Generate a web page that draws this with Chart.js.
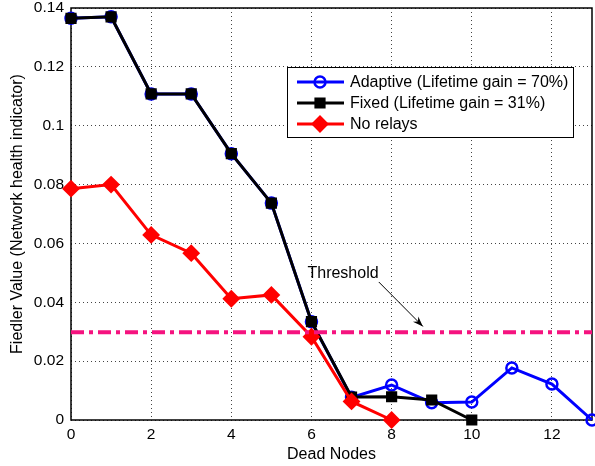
<!DOCTYPE html>
<html>
<head>
<meta charset="utf-8">
<script src="https://cdn.jsdelivr.net/npm/chart.js@4.4.1/dist/chart.umd.min.js"></script>
<style>
html, body { margin: 0; padding: 0; background: #fff; }
#wrap { width: 595px; height: 466px; }
</style>
</head>
<body>
<div id="wrap"><canvas id="chart" width="595" height="466"></canvas></div>
<script>
// values
var deadNodes = [0, 1, 2, 3, 4, 5, 6, 7, 8, 9, 10, 11, 12, 13];
var adaptive = [0.1365, 0.137, 0.1108, 0.1108, 0.0905, 0.0737, 0.0334, 0.0077, 0.0119, 0.0059, 0.0061, 0.0177, 0.0122, 0];
var fixedRelays = [0.1365, 0.137, 0.1108, 0.1108, 0.0905, 0.0737, 0.0334, 0.0078, 0.0079, 0.0068, 0];
var noRelays = [0.0786, 0.0800, 0.0629, 0.0567, 0.0412, 0.0425, 0.0283, 0.0063, 0];
var thresholdValue = 0.0298;
var xTicks = [0, 2, 4, 6, 8, 10, 12];
var yTicks = [0, 0.02, 0.04, 0.06, 0.08, 0.1, 0.12, 0.14];
var yTickLabels = ['0', '0.02', '0.04', '0.06', '0.08', '0.1', '0.12', '0.14'];
var seriesNames = ['Adaptive (Lifetime gain = 70%)', 'Fixed (Lifetime gain = 31%)', 'No relays'];

var FONT = "'Liberation Sans', Arial, Helvetica, sans-serif";

function toPoints(vals) {
    return vals.map(function(v, i) { return { x: deadNodes[i], y: v }; });
}

// axes box, legend and the threshold note, matlab style
var matlabBits = {
    id: 'matlabBits',
    beforeDatasetsDraw: function(chart) {
        var ctx = chart.ctx, a = chart.chartArea;
        ctx.save();
        ctx.strokeStyle = '#000';
        ctx.lineWidth = 1.5;
        ctx.strokeRect(a.left, a.top, a.right - a.left, a.bottom - a.top);
        ctx.restore();
    },
    afterDatasetsDraw: function(chart) {
        var ctx = chart.ctx;
        var xs = chart.scales.x, ys = chart.scales.y;

        // "Threshold" label with arrow
        ctx.save();
        ctx.fillStyle = '#000';
        ctx.font = '16px ' + FONT;
        ctx.textBaseline = 'alphabetic';
        ctx.fillText('Threshold', xs.getPixelForValue(5.9), ys.getPixelForValue(0.0483));
        var x1 = xs.getPixelForValue(7.68), y1 = ys.getPixelForValue(0.0469);
        var x2 = xs.getPixelForValue(8.78), y2 = ys.getPixelForValue(0.0318);
        ctx.strokeStyle = '#000';
        ctx.lineWidth = 1;
        ctx.beginPath();
        ctx.moveTo(x1, y1);
        ctx.lineTo(x2, y2);
        ctx.stroke();
        var ang = Math.atan2(y2 - y1, x2 - x1);
        ctx.beginPath();
        ctx.moveTo(x2, y2);
        ctx.lineTo(x2 - 11 * Math.cos(ang - 0.35), y2 - 11 * Math.sin(ang - 0.35));
        ctx.lineTo(x2 - 7 * Math.cos(ang), y2 - 7 * Math.sin(ang));
        ctx.lineTo(x2 - 11 * Math.cos(ang + 0.35), y2 - 11 * Math.sin(ang + 0.35));
        ctx.closePath();
        ctx.fill();
        ctx.restore();

        // legend box
        var bx = 287, by = 67, bw = 286, bh = 70;
        ctx.save();
        ctx.fillStyle = '#fff';
        ctx.fillRect(bx, by, bw, bh);
        ctx.strokeStyle = '#000';
        ctx.lineWidth = 1;
        ctx.strokeRect(bx + 0.5, by + 0.5, bw, bh);
        var sets = chart.data.datasets;
        for (var i = 0; i < 3; i++) {
            var ds = sets[i];
            var cy = by + 15 + i * 21;
            ctx.strokeStyle = ds.borderColor;
            ctx.lineWidth = 3;
            ctx.beginPath();
            ctx.moveTo(bx + 10, cy);
            ctx.lineTo(bx + 57, cy);
            ctx.stroke();
            ctx.fillStyle = ds.pointBackgroundColor;
            ctx.strokeStyle = ds.borderColor;
            ctx.lineWidth = ds.pointBorderWidth;
            ctx.beginPath();
            if (ds.pointStyle === 'circle') {
                ctx.arc(bx + 33, cy, ds.pointRadius, 0, Math.PI * 2);
            } else if (ds.pointStyle === 'rect') {
                var s = ds.pointRadius * Math.SQRT1_2;
                ctx.rect(bx + 33 - s, cy - s, 2 * s, 2 * s);
            } else {
                var r = ds.pointRadius;
                ctx.moveTo(bx + 33 - r, cy);
                ctx.lineTo(bx + 33, cy - r);
                ctx.lineTo(bx + 33 + r, cy);
                ctx.lineTo(bx + 33, cy + r);
                ctx.closePath();
            }
            ctx.fill();
            ctx.stroke();
            ctx.fillStyle = '#000';
            ctx.font = '16px ' + FONT;
            ctx.textBaseline = 'middle';
            ctx.fillText(seriesNames[i], bx + 63, cy + 1);
        }
        ctx.restore();
    }
};

function noEdgePadding(scale) {
    scale.paddingLeft = 0;
    scale.paddingRight = 0;
    scale.paddingTop = 0;
    scale.paddingBottom = 0;
}

var ctx = document.getElementById('chart').getContext('2d');
var chart = new Chart(ctx, {
    type: 'line',
    data: {
        datasets: [
            {
                label: seriesNames[0],
                data: toPoints(adaptive),
                borderColor: '#0000ff',
                borderWidth: 3,
                pointStyle: 'circle',
                pointRadius: 5.5,
                pointBorderWidth: 2.5,
                pointBackgroundColor: 'rgba(255,255,255,0)',
                pointBorderColor: '#0000ff',
                tension: 0,
                clip: false,
                order: 4
            },
            {
                label: seriesNames[1],
                data: toPoints(fixedRelays),
                borderColor: '#000000',
                borderWidth: 3,
                pointStyle: 'rect',
                pointRadius: 6.5,
                pointBorderWidth: 2,
                pointBackgroundColor: '#000000',
                pointBorderColor: '#000000',
                tension: 0,
                clip: false,
                order: 3
            },
            {
                label: seriesNames[2],
                data: toPoints(noRelays),
                borderColor: '#ff0000',
                borderWidth: 3,
                pointStyle: 'rectRot',
                pointRadius: 7.5,
                pointBorderWidth: 2,
                pointBackgroundColor: '#ff0000',
                pointBorderColor: '#ff0000',
                tension: 0,
                clip: false,
                order: 2
            },
            {
                label: 'Threshold',
                data: [{ x: deadNodes[0], y: thresholdValue }, { x: deadNodes[deadNodes.length - 1], y: thresholdValue }],
                borderColor: '#f5137f',
                borderWidth: 4,
                borderDash: [13, 5, 4, 5],
                pointRadius: 0,
                clip: false,
                order: 1
            }
        ]
    },
    options: {
        responsive: false,
        animation: false,
        devicePixelRatio: 1,
        layout: { autoPadding: false, padding: { left: 0, right: 3, top: 8, bottom: 0 } },
        plugins: {
            legend: { display: false },
            tooltip: { enabled: false }
        },
        scales: {
            x: {
                type: 'linear',
                min: 0,
                max: 13,
                afterBuildTicks: function(scale) {
                    scale.ticks = xTicks.map(function(v) { return { value: v }; });
                },
                afterFit: function(scale) { scale.height = 46; noEdgePadding(scale); },
                ticks: {
                    color: '#000',
                    font: { family: FONT, size: 15.5 },
                    padding: 5,
                    maxRotation: 0,
                    autoSkip: false
                },
                grid: { color: '#444', lineWidth: 1, drawTicks: false },
                border: { display: false, dash: [1, 3] },
                title: {
                    display: true,
                    text: 'Dead Nodes',
                    color: '#000',
                    font: { family: FONT, size: 16 },
                    padding: { top: 0, bottom: 2 }
                }
            },
            y: {
                type: 'linear',
                min: 0,
                max: 0.14,
                afterBuildTicks: function(scale) {
                    scale.ticks = yTicks.map(function(v) { return { value: v }; });
                },
                afterFit: function(scale) { scale.width = 71; noEdgePadding(scale); },
                ticks: {
                    color: '#000',
                    font: { family: FONT, size: 15.5 },
                    padding: 7,
                    callback: function(value) {
                        var i = yTicks.indexOf(value);
                        return i >= 0 ? yTickLabels[i] : '';
                    }
                },
                grid: { color: '#444', lineWidth: 1, drawTicks: false },
                border: { display: false, dash: [1, 3] },
                title: {
                    display: true,
                    text: 'Fiedler Value (Network health indicator)',
                    color: '#000',
                    font: { family: FONT, size: 16 },
                    padding: { top: 8, bottom: 0 }
                }
            }
        }
    },
    plugins: [matlabBits]
});
</script>
</body>
</html>
